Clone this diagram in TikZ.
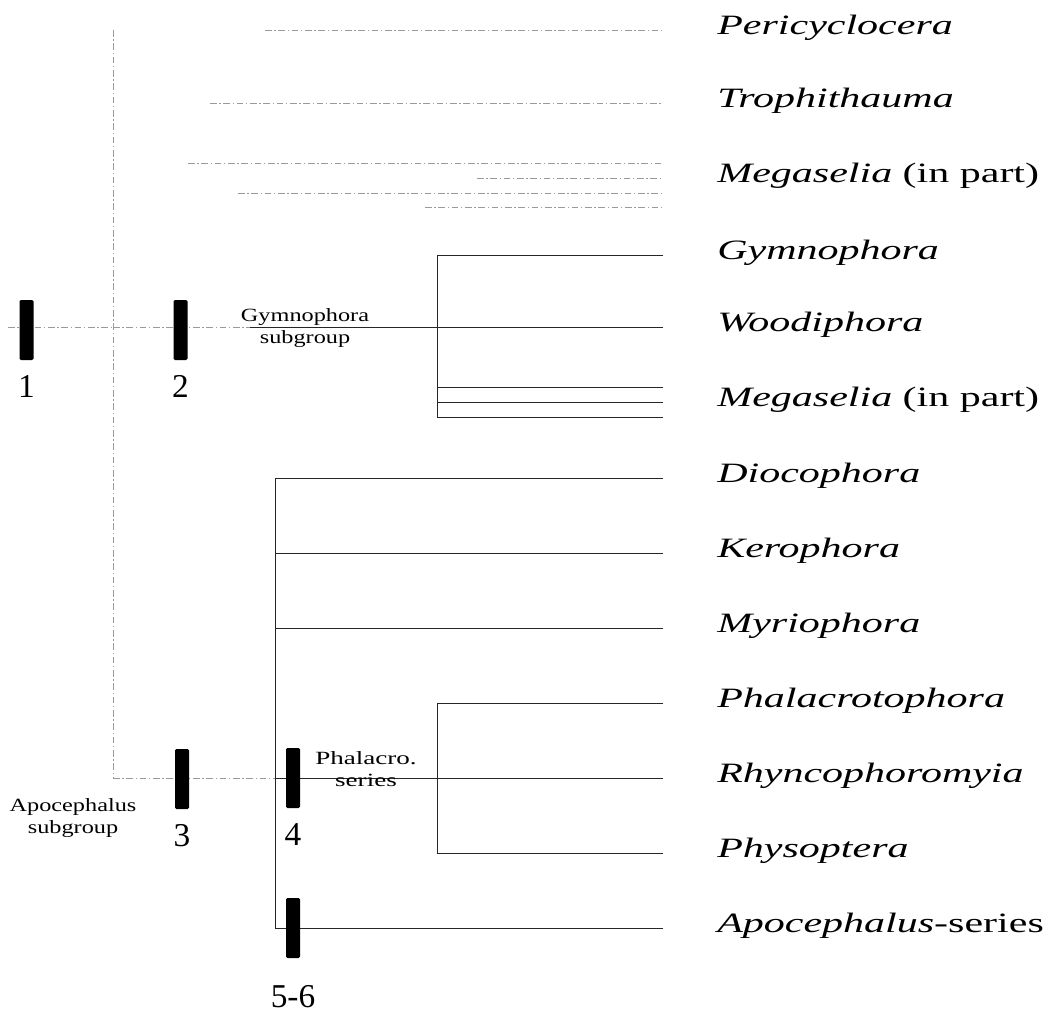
\documentclass[tikz,border=0pt]{standalone}
\usepackage{fontspec}
\usepackage{graphicx}
\setmainfont{Liberation Serif}
\usetikzlibrary{positioning}
\definecolor{TreeInk}{HTML}{262626}
\definecolor{TreeFaint}{HTML}{9A9A9A}
\newcommand{\wide}[2][1.5]{\scalebox{#1}[1]{#2}}

\begin{document}
\begin{tikzpicture}[
    x=0.75pt, y=-0.75pt,
    branch/.style={draw=TreeInk, line width=0.65pt},
    faint/.style={draw=TreeFaint, line width=0.55pt,
                  dash pattern=on 5pt off 2pt on 1pt off 2pt},
    apomorphy/.style={fill=black, rounded corners=1pt, inner sep=0pt,
                      minimum width=10.5pt, minimum height=45pt},
    charnum/.style={font=\fontsize{25}{28}\selectfont, inner sep=0pt},
    taxon/.style={anchor=base west, inner sep=0pt,
                  font=\fontsize{21}{24}\selectfont},
    group label/.style={align=center, inner sep=0pt,
                        font=\fontsize{14}{17}\selectfont}
]
    \useasboundingbox (0,0) rectangle (1055,1015);

    % terminal taxa and the ends of their branches
    \foreach \y/\name/\txt in {30/peri/\textit{Pericyclocera},
            103/troph/\textit{Trophithauma},
            178/megaA/{\textit{Megaselia} (in part)},
            255/gymno/\textit{Gymnophora},
            327/wood/\textit{Woodiphora},
            402/megaB/{\textit{Megaselia} (in part)},
            478/dioc/\textit{Diocophora},
            553/kero/\textit{Kerophora},
            628/myrio/\textit{Myriophora},
            703/phala/\textit{Phalacrotophora},
            778/rhyn/\textit{Rhyncophoromyia},
            853/physo/\textit{Physoptera},
            928/apos/{\textit{Apocephalus}-series}} {
        \coordinate (\name-end) at (663,\y);
        \node[taxon] (\name) at (717,\y+4) {\wide{\txt}};
    }
    \coordinate (megaA1-end) at (663,163);
    \coordinate (megaA3-end) at (663,193);
    \coordinate (megaA4-end) at (663,207);
    \coordinate (megaB1-end) at (663,387);
    \coordinate (megaB3-end) at (663,417);

    % unresolved basal lineages
    \coordinate (root) at (8,327);
    \coordinate (axtop) at (113,30);
    \coordinate (axmid) at (113,327);
    \coordinate (axbot) at (113,778);
    \draw[faint] (axtop) -- (axbot);
    \draw[faint] (root) -- (axmid);

    \coordinate (periroot) at (265,30);
    \coordinate (trophroot) at (210,103);
    \coordinate (megaA1root) at (188,163);
    \coordinate (megaA2root) at (477,178);
    \coordinate (megaA3root) at (238,193);
    \coordinate (megaA4root) at (425,207);
    \draw[faint] (periroot) -- (peri-end);
    \draw[faint] (trophroot) -- (troph-end);
    \draw[faint] (megaA1root) -- (megaA1-end);
    \draw[faint] (megaA2root) -- (megaA-end);
    \draw[faint] (megaA3root) -- (megaA3-end);
    \draw[faint] (megaA4root) -- (megaA4-end);

    % Gymnophora subgroup
    \coordinate (gymfade) at (250,327);
    \coordinate (gym) at (437,327);
    \coordinate (gymbot) at (437,417);
    \draw[faint] (axmid) -- (gymfade);
    \draw[branch] (gymfade) -- (gym);
    \draw[branch] (gymno-end) -| (gymbot) -- (megaB3-end);
    \draw[branch] (gym) -- (wood-end);
    \draw[branch] (gym |- megaB1-end) -- (megaB1-end);
    \draw[branch] (gym |- megaB-end) -- (megaB-end);

    % Apocephalus subgroup
    \coordinate (apo) at (275,778);
    \coordinate (apobot) at (275,928);
    \coordinate (phal) at (437,778);
    \coordinate (phalbot) at (437,853);
    \draw[faint] (axbot) -- (apo);
    \draw[branch] (dioc-end) -| (apobot) -- (apos-end);
    \draw[branch] (apo |- kero-end) -- (kero-end);
    \draw[branch] (apo |- myrio-end) -- (myrio-end);
    \draw[branch] (apo) -- (phal);
    \draw[branch] (phala-end) -| (phalbot) -- (physo-end);
    \draw[branch] (phal) -- (rhyn-end);

    % apomorphies
    \node[apomorphy] (bar1) at (26.5,330) {};
    \node[apomorphy] (bar2) at (180.5,330) {};
    \node[apomorphy] (bar3) at (182,779) {};
    \node[apomorphy] (bar4) at (293,778) {};
    \node[apomorphy] (bar56) at (293,928) {};

    \node[charnum, below=11pt of bar1] (num1) {1};
    \node[charnum, below=11pt of bar2] (num2) {2};
    \node[charnum, below=11pt of bar3] (num3) {3};
    \node[charnum, below=11pt of bar4] (num4) {4};
    \node[charnum, below=20pt of bar56] (num56) {5-6};

    \node[group label] (gymlabel) at (305,328)
        {\wide[1.3]{Gymnophora}\\\wide[1.3]{subgroup}};
    \node[group label] (phallabel) at (366,769)
        {\wide[1.45]{Phalacro.}\\\wide[1.45]{series}};
    \node[group label] (apolabel) at (73,818)
        {\wide[1.3]{Apocephalus}\\\wide[1.3]{subgroup}};
\end{tikzpicture}
\end{document}
